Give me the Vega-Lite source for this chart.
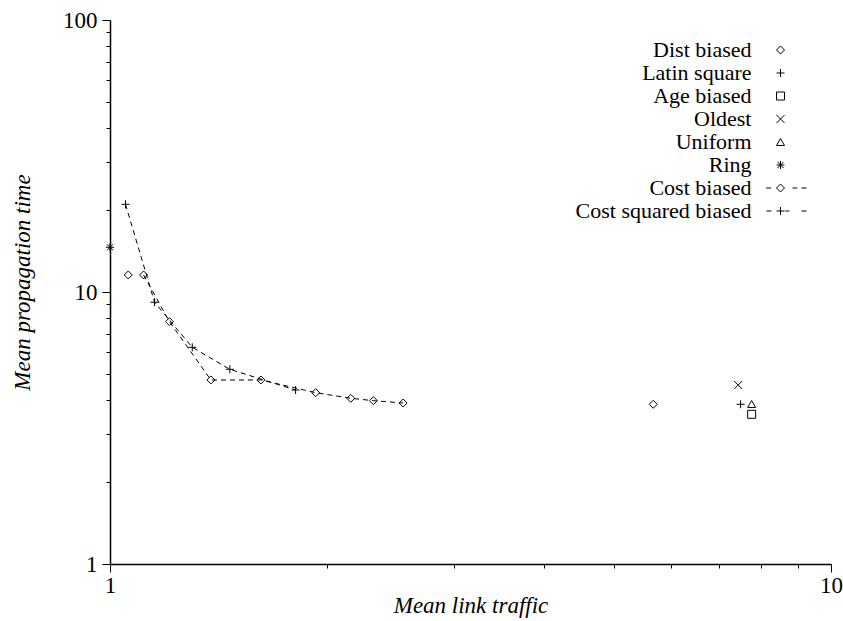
{
  "$schema": "https://vega.github.io/schema/vega-lite/v6.json",
  "width": 721,
  "height": 544,
  "autosize": {"type": "none"},
  "padding": {"left": 110, "top": 20, "right": 12, "bottom": 57},
  "background": "white",
  "config": {"view": {"stroke": null}, "font": "Liberation Serif"},
  "data": {
    "values": [
      {"series": "Dist biased", "x": 1.06, "y": 11.55},
      {"series": "Dist biased", "x": 5.668, "y": 3.865},
      {"series": "Latin square", "x": 7.493, "y": 3.865},
      {"series": "Age biased", "x": 7.762, "y": 3.551},
      {"series": "Oldest", "x": 7.435, "y": 4.55},
      {"series": "Uniform", "x": 7.762, "y": 3.875},
      {"series": "Ring", "x": 1.0, "y": 14.6},
      {"series": "Cost biased", "x": 1.1131, "y": 11.55},
      {"series": "Cost biased", "x": 1.2093, "y": 7.778},
      {"series": "Cost biased", "x": 1.3801, "y": 4.749},
      {"series": "Cost biased", "x": 1.6192, "y": 4.749},
      {"series": "Cost biased", "x": 1.9287, "y": 4.264},
      {"series": "Cost biased", "x": 2.157, "y": 4.067},
      {"series": "Cost biased", "x": 2.319, "y": 3.985},
      {"series": "Cost biased", "x": 2.55, "y": 3.908},
      {"series": "Cost squared biased", "x": 1.0508, "y": 21.01},
      {"series": "Cost squared biased", "x": 1.1529, "y": 9.17},
      {"series": "Cost squared biased", "x": 1.3005, "y": 6.26},
      {"series": "Cost squared biased", "x": 1.4664, "y": 5.197},
      {"series": "Cost squared biased", "x": 1.8088, "y": 4.362}
    ]
  },
  "encoding": {
    "x": {
      "field": "x",
      "type": "quantitative",
      "scale": {"type": "log", "domain": [1, 10], "nice": false},
      "title": "Mean link traffic",
      "axis": {
        "values": [1, 2, 3, 4, 5, 6, 7, 8, 9, 10],
        "labelExpr": "datum.value == 1 || datum.value == 10 ? format(datum.value, 'd') : ''",
        "labelFlush": false,
        "labelOverlap": false,
        "grid": false,
        "tickSize": {"condition": {"test": "datum.value == 1 || datum.value == 10", "value": 8}, "value": 4},
        "tickColor": "black",
        "domainColor": "black",
        "domainWidth": 1.5,
        "labelFont": "Liberation Serif",
        "labelFontSize": 23,
        "labelColor": "black",
        "labelPadding": 2,
        "titleFont": "Liberation Serif",
        "titleFontSize": 23,
        "titleFontStyle": "italic",
        "titleFontWeight": "normal",
        "titleColor": "black",
        "titlePadding": -3
      }
    },
    "y": {
      "field": "y",
      "type": "quantitative",
      "scale": {"type": "log", "domain": [1, 100], "nice": false},
      "title": "Mean propagation time",
      "axis": {
        "values": [1, 2, 3, 4, 5, 6, 7, 8, 9, 10, 20, 30, 40, 50, 60, 70, 80, 90, 100],
        "labelExpr": "datum.value == 1 || datum.value == 10 || datum.value == 100 ? format(datum.value, 'd') : ''",
        "labelFlush": false,
        "labelOverlap": false,
        "grid": false,
        "tickSize": {"condition": {"test": "datum.value == 1 || datum.value == 10 || datum.value == 100", "value": 8}, "value": 4},
        "tickColor": "black",
        "domainColor": "black",
        "domainWidth": 1.5,
        "labelFont": "Liberation Serif",
        "labelFontSize": 23,
        "labelColor": "black",
        "labelPadding": 5,
        "titleFont": "Liberation Serif",
        "titleFontSize": 23,
        "titleFontStyle": "italic",
        "titleFontWeight": "normal",
        "titleColor": "black",
        "titleAngle": -90,
        "titleX": -88,
        "titleY": 262,
        "titleAlign": "center",
        "titleBaseline": "middle"
      }
    }
  },
  "layer": [
    {
      "transform": [{"filter": "datum.series == 'Cost biased' || datum.series == 'Cost squared biased'"}],
      "mark": {"type": "line", "color": "black", "strokeWidth": 1, "strokeDash": [5, 4]},
      "encoding": {
        "detail": {"field": "series", "type": "nominal"},
        "order": {"field": "x", "type": "quantitative"}
      }
    },
    {
      "transform": [{"filter": "datum.series == 'Cost biased'"}],
      "mark": {"type": "point", "filled": false, "color": "black", "strokeWidth": 1, "size": 64, "opacity": 1, "shape": "diamond"},
      "encoding": {}
    },
    {
      "transform": [{"filter": "datum.series == 'Cost squared biased'"}],
      "mark": {"type": "point", "filled": false, "color": "black", "strokeWidth": 1, "size": 64, "opacity": 1, "shape": "M-1,0H1M0,-1V1"},
      "encoding": {}
    },
    {
      "transform": [{"filter": "datum.series != 'Cost biased' && datum.series != 'Cost squared biased'"}],
      "mark": {"type": "point", "filled": false, "color": "black", "strokeWidth": 1, "size": 64, "opacity": 1},
      "encoding": {
        "shape": {
          "field": "series",
          "type": "nominal",
          "scale": {
            "domain": ["Dist biased", "Latin square", "Age biased", "Oldest", "Uniform", "Ring", "Cost biased", "Cost squared biased"],
            "range": ["diamond", "M-1,0H1M0,-1V1", "square", "M-1,-1L1,1M-1,1L1,-1", "triangle-up", "M-1,0H1M0,-1V1M-0.75,-0.75L0.75,0.75M-0.75,0.75L0.75,-0.75", "M-3.6,0H-2.4M0,-1L1,0L0,1L-1,0ZM3,0H4.2M5.25,0H6.5", "M-3.5,0H-2.3M-1,0H1M0,-1V1M1.2,0H2.2M5.25,0H6.5"]
          },
          "legend": {
            "orient": "none",
            "legendX": 659.5,
            "legendY": 19,
            "title": null,
            "padding": 0,
            "labelFont": "Liberation Serif",
            "labelFontSize": 22,
            "labelColor": "black",
            "labelAlign": "right",
            "labelOffset": -40,
            "labelLimit": 0,
            "symbolSize": 64,
            "symbolStrokeColor": "black",
            "symbolStrokeWidth": 1,
            "symbolFillColor": "transparent",
            "rowPadding": 1
          }
        }
      }
    }
  ]
}
